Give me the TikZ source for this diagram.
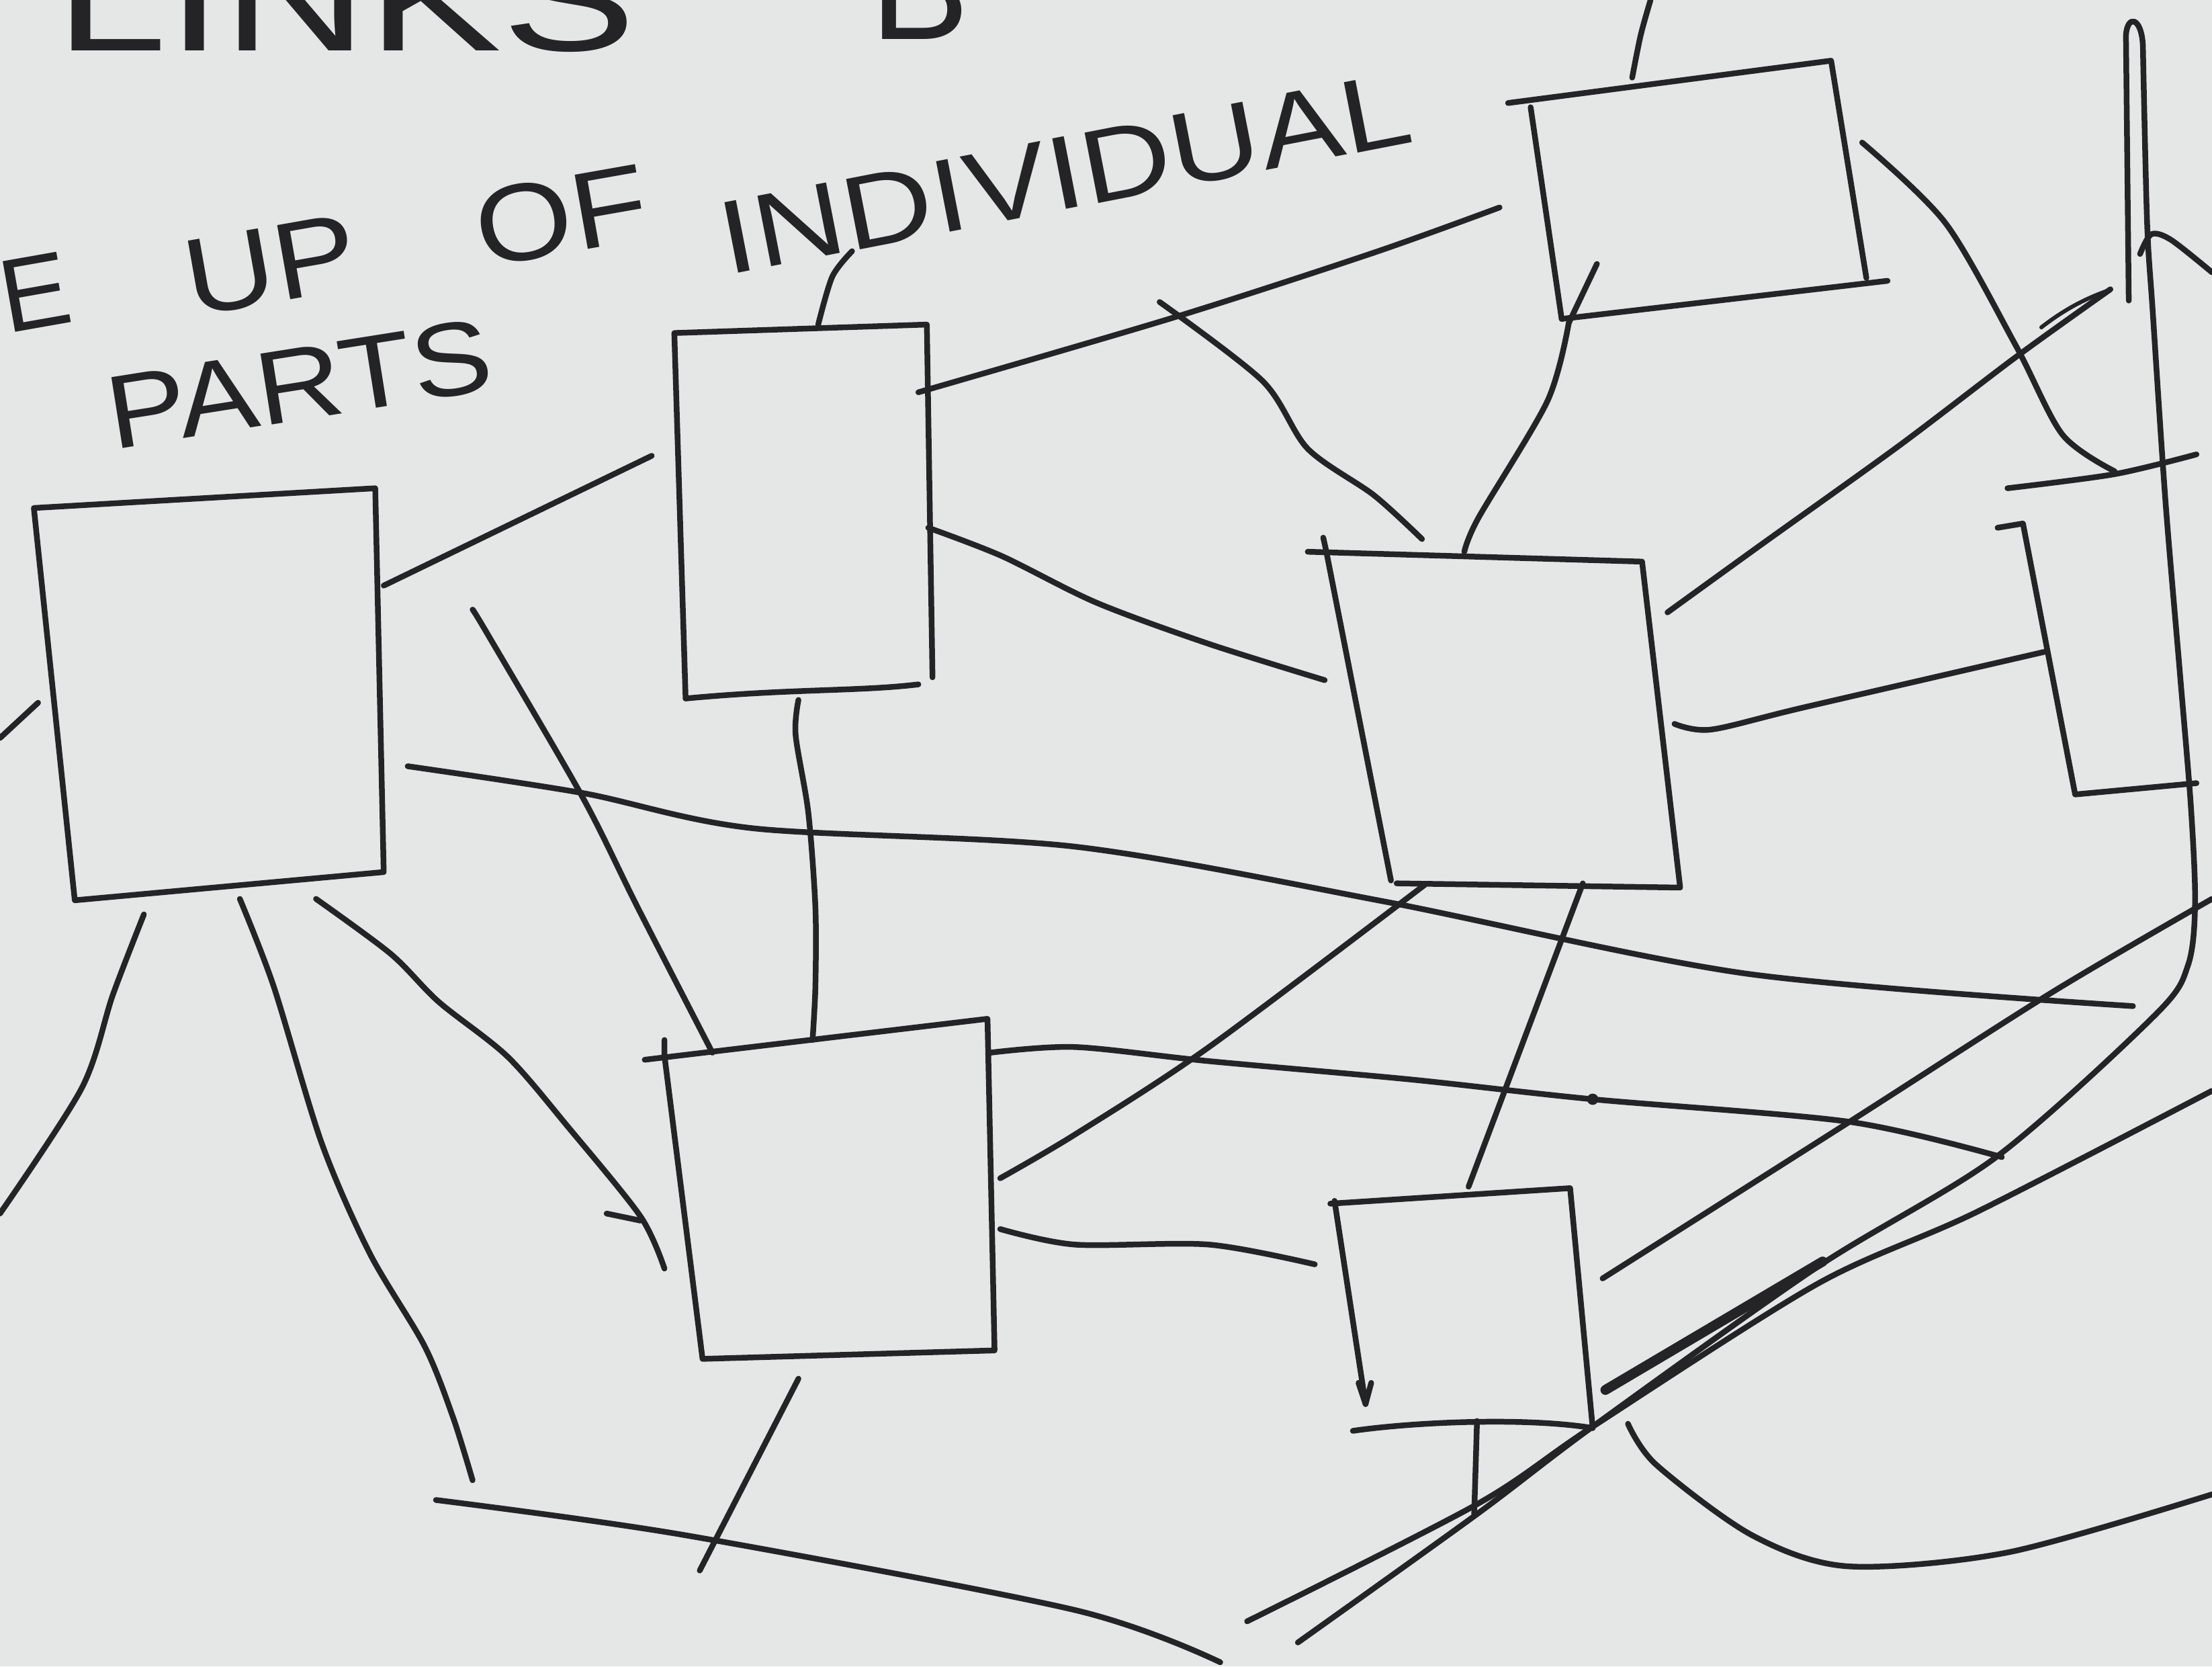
\documentclass[tikz,border=0pt]{standalone}
\usepackage{fontspec}
\setmainfont{Liberation Sans}
\definecolor{paper}{RGB}{229,231,231}
\definecolor{ink}{RGB}{36,36,38}
\begin{document}
\begin{tikzpicture}[x=0.01cm,y=-0.01cm,
  pen/.style={draw=ink,line width=1.15pt,line cap=round,line join=round},
  thick pen/.style={pen,line width=2pt},
  hand/.style={text=ink,inner sep=0pt,font=\fontsize{21}{24}\selectfont},
  big hand/.style={text=ink,inner sep=0pt,anchor=base,font=\fontsize{30}{34}\selectfont}]
\useasboundingbox (0,0) rectangle (1568,1181);
\fill[paper] (0,0) rectangle (1568,1181);

% ---------- texts ----------
\node[big hand] (t1) at (245,36) {\scalebox{1.35}[1]{LINKS}};
\node[big hand] (t2) at (652,28) {B};
\node[hand,rotate=10] (t3) at (25,207) {E};
\node[hand,rotate=10] (t4) at (192,188) {\scalebox{1.2}[1.05]{UP}};
\node[hand,rotate=10] (t5) at (398,153) {\scalebox{1.2}[1.05]{OF}};
\node[hand,rotate=11] (t6) at (755,123) {\scalebox{1.2}[1]{INDIVIDUAL}};
\node[hand,rotate=9] (t7) at (212,272) {\scalebox{1.15}[1]{PARTS}};

% ---------- box corners ----------
\coordinate (b1a) at (24,360);  \coordinate (b1b) at (266,346);
\coordinate (b1c) at (272,618); \coordinate (b1d) at (53,638);
\coordinate (b2a) at (478,236); \coordinate (b2b) at (657,230);
\coordinate (b2c) at (661,480); \coordinate (b2d) at (486,495);
\coordinate (b3a) at (1085,76); \coordinate (b3b) at (1298,43);
\coordinate (b3c) at (1323,197);\coordinate (b3d) at (1107,226);
\coordinate (b4a) at (940,390); \coordinate (b4b) at (1164,398);
\coordinate (b4c) at (1191,629);\coordinate (b4d) at (986,624);
\coordinate (b5a) at (471,748); \coordinate (b5b) at (700,722);
\coordinate (b5c) at (705,957); \coordinate (b5d) at (498,963);
\coordinate (b6a) at (946,851); \coordinate (b6b) at (1113,842);
\coordinate (b6c) at (1129,1012);
\coordinate (b7a) at (1434,371); \coordinate (b7b) at (1471,563);

% ---------- boxes ----------
\draw[pen] (b1a) -- (b1b) -- (b1c) -- (b1d) -- cycle;
\draw[pen] (b2d) -- (b2a) -- (b2b) -- (b2c);
\draw[pen] (b2d) .. controls (560,488) and (610,490) .. (651,485);
\draw[pen] (1069,73) -- (b3b) -- (b3c);
\draw[pen] (1338,199) -- (b3d);
\draw[pen] (b3a) -- (b3d);
\draw[pen] (927,391) -- (b4b) -- (b4c) -- (990,626);
\draw[pen] (938,381) -- (b4a) -- (b4d);
\draw[pen] (457,751) -- (b5b) -- (b5c) -- (b5d) -- (b5a) -- (471,737);
\draw[pen] (943,853) -- (b6b) -- (b6c);
\draw[pen] (b6a) -- (968,995);
\draw[pen] (963,980) -- (968,995) -- (972,980);
\draw[pen] (959,1014) .. controls (1000,1008) and (1080,1004) .. (b6c);
\draw[pen] (1416,374) -- (b7a) -- (b7b) -- (1557,555);

% ---------- connectors ----------
\draw[pen] (272,415) -- (462,323);
\draw[pen] (0,523) -- (27,498);
\draw[pen] plot[smooth] coordinates {(102,648) (80,705) (58,771) (0,860)};
\draw[pen] plot[smooth] coordinates {(170,637) (194,699) (228,810) (262,888) (301,954) (321,1004) (335,1049)};
\draw[pen] plot[smooth] coordinates {(224,637) (277,676) (311,710) (360,749) (403,799) (454,862) (471,899)};
\draw[pen] (430,860) -- (454,865);
\draw[pen] plot[smooth] coordinates {(335,432) (346,450) (413,565) (452,643) (505,746)};
\draw[pen] plot[smooth] coordinates {(566,496) (564,521) (573,576) (578,643) (578,699) (576,737)};
\draw[pen] plot[smooth,tension=0.5] coordinates {(289,543) (413,562) (534,587) (762,600) (982,639) (1238,690) (1512,713)};
\draw[pen] plot[smooth] coordinates {(651,278) (832,225) (974,179) (1063,147)};
\draw[pen] plot[smooth] coordinates {(822,214) (895,270) (927,318) (974,351) (1008,382)};
\draw[pen] (1132,187) -- (1112,229);
\draw[pen] plot[smooth] coordinates {(1112,229) (1097,284) (1048,367) (1038,391)};
\draw[pen] plot[smooth] coordinates {(1157,55) (1163,25) (1170,0)};
\draw[pen] plot[smooth] coordinates {(580,230) (590,196) (604,178)};
\draw[pen] plot[smooth] coordinates {(658,374) (710,394) (777,427) (856,456) (939,482)};
\draw[pen] plot[smooth] coordinates {(1182,434) (1247,387) (1346,316) (1429,253) (1496,205)};
\draw[pen,line width=0.8pt] (1447,232) .. controls (1465,218) and (1480,211) .. (1494,206);
\draw[pen] plot[smooth] coordinates {(1187,513) (1213,517) (1280,501) (1449,462)};
\draw[pen] plot[smooth] coordinates {(1320,101) (1379,158) (1429,245) (1462,308) (1499,334)};
\draw[pen] plot[smooth] coordinates {(1423,346) (1499,336) (1557,322)};
\draw[pen] (1509,213) -- (1507,25) .. controls (1508,10) and (1518,12) .. (1519,32);
\draw[pen] plot[smooth] coordinates {(1519,32) (1522,158) (1526,221) (1535,355) (1545,474) (1553,571) (1556,640) (1551,684) (1528,719) (1415,820) (1288,898) (1129,1011) (1047,1073) (920,1164)};
\draw[pen] plot[smooth] coordinates {(1517,180) (1525,166) (1539,170) (1568,193)};
\draw[pen] plot[smooth] coordinates {(1136,906) (1311,795) (1455,703) (1568,637)};
\draw[pen] plot[smooth] coordinates {(884,1149) (1047,1066) (1129,1011) (1288,910) (1401,859) (1568,773)};
\draw[thick pen] (1138,985) -- (1292,894);
\draw[pen] plot[smooth] coordinates {(1154,1009) (1174,1038) (1242,1088) (1310,1110) (1424,1100) (1568,1059)};
\draw[pen] (1122,626) -- (1041,841);
\draw[pen] plot[smooth] coordinates {(709,835) (762,804) (857,742) (1010,627)};
\draw[pen] plot[smooth] coordinates {(702,746) (762,742) (857,752) (1000,765) (1129,779) (1311,795) (1419,820)};
\fill[ink] (1129,779) circle (4);
\draw[pen] plot[smooth] coordinates {(709,871) (762,882) (857,882) (932,896)};
\draw[pen] (566,977) -- (496,1113);
\draw[pen] plot[smooth] coordinates {(309,1063) (486,1088) (762,1141) (865,1178)};
\draw[pen] (1047,1007) -- (1045,1073);
\end{tikzpicture}
\end{document}
